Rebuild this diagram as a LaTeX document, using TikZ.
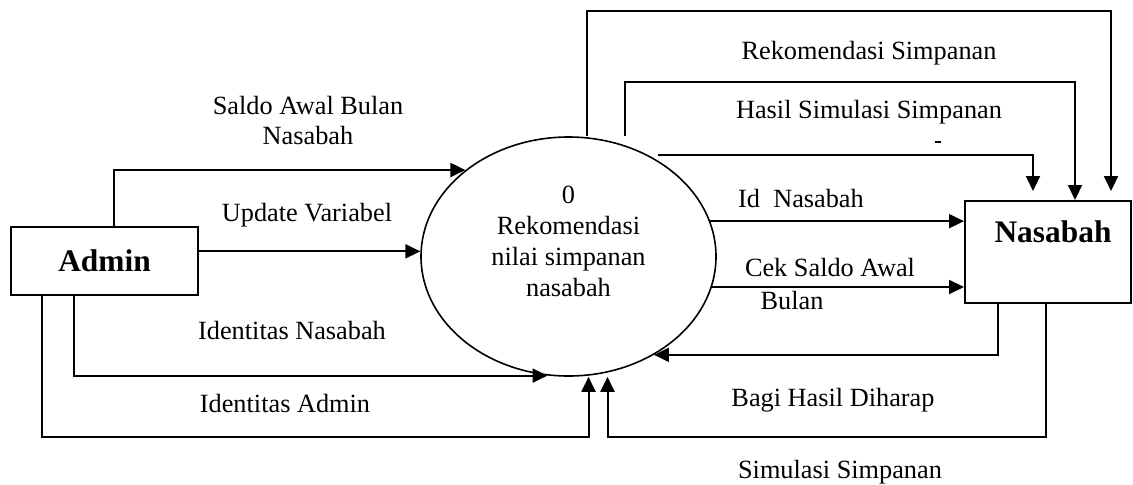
\documentclass[tikz,border=0pt]{standalone}
\usepackage{fontspec}
\setmainfont{Liberation Serif}
\usetikzlibrary{calc,arrows.meta,shapes.geometric}

\begin{document}
\begin{tikzpicture}[x=0.5pt,y=-0.5pt]
% Diagram style
\tikzset{
    entity/.style={draw, line width=1pt, inner sep=0pt, font=\fontsize{15.7}{18}\selectfont\bfseries},
    process/.style={draw, ellipse, line width=0.8pt, minimum width=147.5pt, minimum height=119.5pt, inner sep=0pt},
    flow/.style={line width=1pt, -{Triangle[length=7.5pt,width=7pt]}},
    lbl/.style={font=\fontsize{13.15}{15}\selectfont, align=center, inner sep=0pt}
}

\useasboundingbox (0,0) rectangle (1133,484);

% Nodes
\node[entity, minimum width=93.5pt, minimum height=34pt] (ADM) at (104.5,261) {Admin};
\node[entity, minimum width=83pt, minimum height=51pt,
    label={[font=\fontsize{15.7}{18}\selectfont\bfseries, xshift=2.5pt, yshift=10pt]center:Nasabah}] (NSB) at (1048,252) {};
\node[process,
    label={[lbl, font=\fontsize{13.15}{15.5}\selectfont, yshift=7.75pt]center:0\\Rekomendasi\\nilai simpanan\\nasabah}] (PRC) at (568.5,256.5) {};

% Labels
\node[lbl] (SABN) at (308,120) {Saldo Awal Bulan\\Nasabah};
\node[lbl] (UPV) at (307,215) {Update Variabel};
\node[lbl] (IDN) at (292,330) {Identitas Nasabah};
\node[lbl] (IDA) at (285,403) {Identitas Admin};
\node[lbl] (RKS) at (869,53) {Rekomendasi Simpanan};
\node[lbl] (HSS) at (869,112) {Hasil Simulasi Simpanan};
\node[lbl] (IDNS) at (801,198) {Id\ \ Nasabah};
\node[lbl] (CSA) at (830,267) {Cek Saldo Awal};
\node[lbl] (BLN) at (792,300) {Bulan};
\node[lbl] (BHD) at (833,400) {Bagi Hasil Diharap};
\node[lbl] (SMS) at (840,472) {Simulasi Simpanan};

% Connections Admin - process
\draw[flow] ($(ADM.north west)+(104,0)$) |- (PRC.140);
\draw[flow] (ADM.east |- PRC.178) -- (PRC.178);
\draw[flow] ($(ADM.south west)+(64,0)$) |- (PRC.260);
\draw[flow] ($(ADM.south west)+(32,0)$) |- ($(PRC.south)+(20,60)$) -- ($(PRC.south)+(20,0)$);

% Connections process - Nasabah
\draw[flow] (PRC.14) -- (PRC.14 -| NSB.west);
\draw[flow] (PRC.348) -- (PRC.348 -| NSB.west);
\draw[flow] ($(PRC.47)+(0,-6)$) -| ($(NSB.north)+(-15,-9)$);
\draw[flow] ($(PRC.north)+(56.5,0)$) |- ($(NSB.north)+(27,-118)$) -- ($(NSB.north)+(27,0)$);
\draw[flow] ($(PRC.north)+(18.5,0)$) |- ($(NSB.north)+(63,-189)$) -- ($(NSB.north)+(63,-9)$);

% Connections Nasabah - process
\draw[flow] ($(NSB.south west)+(34,0)$) |- (PRC.311);
\draw[flow] ($(NSB.south west)+(82,0)$) |- ($(PRC.south)+(39,60)$) -- ($(PRC.south)+(39,0)$);

% stray mark
\draw[line width=0.8pt] (935,142) -- (941,142);
\end{tikzpicture}
\end{document}
